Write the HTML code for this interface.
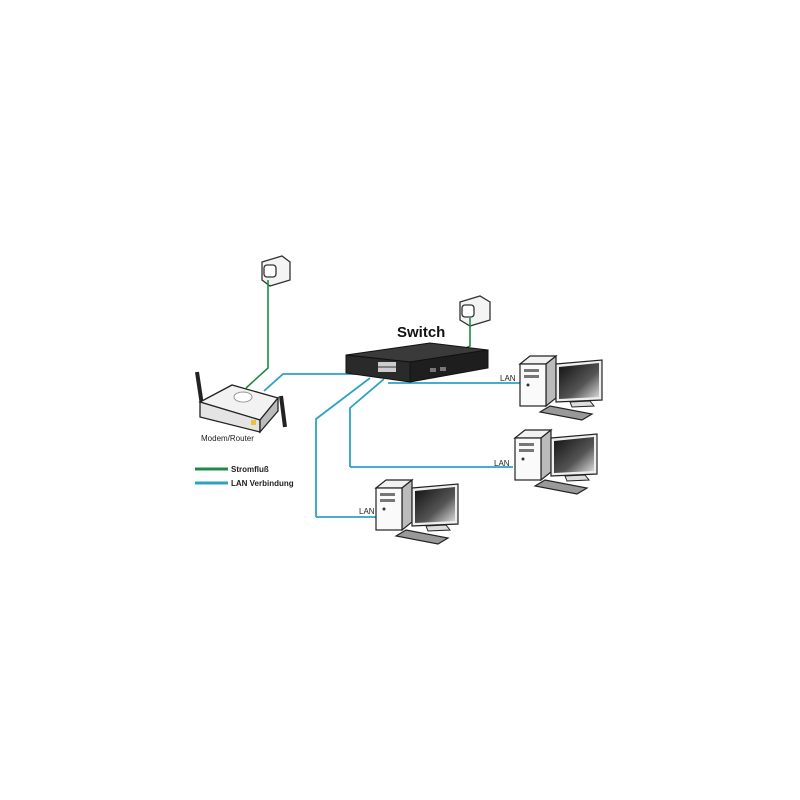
<!DOCTYPE html>
<html><head><meta charset="utf-8"><style>body{margin:0;background:#fff}svg{display:block}text{font-family:"Liberation Sans",sans-serif}</style></head><body>
<svg width="800" height="800" viewBox="0 0 800 800">
<defs>
<linearGradient id="scr" x1="0" y1="0" x2="1" y2="1"><stop offset="0" stop-color="#111"/><stop offset="0.6" stop-color="#555"/><stop offset="1" stop-color="#ddd"/></linearGradient>
<g id="pc">
<polygon points="0,8 10,0 36,0 26,8" fill="#f2f2f2" stroke="#222" stroke-width="1.2"/>
<polygon points="26,8 36,0 36,42 26,50" fill="#bbb" stroke="#222" stroke-width="1.2"/>
<rect x="0" y="8" width="26" height="42" fill="#fafafa" stroke="#222" stroke-width="1.2"/>
<rect x="4" y="13" width="15" height="3" fill="#777"/>
<rect x="4" y="19" width="15" height="3" fill="#777"/>
<circle cx="8" cy="29" r="1.5" fill="#333"/>
<polygon points="36,8 82,4 82,44 36,46" fill="#eee" stroke="#222" stroke-width="1.2"/>
<polygon points="39,11 79,7 79,41 39,43" fill="url(#scr)"/>
<polygon points="50,46 70,45 74,50 52,51" fill="#ddd" stroke="#222" stroke-width="1"/>
<polygon points="20,56 30,50 72,58 62,64" fill="#999" stroke="#222" stroke-width="1.2"/>
</g>
</defs>
<g stroke="#333" stroke-width="1.3" fill="#f4f4f4">
<polygon points="262,262 282,256 290,262 290,280 270,286 262,280"/>
<rect x="264" y="265" width="12" height="12" rx="3" fill="#fff"/>
<polygon points="460,302 480,296 490,302 490,320 470,326 460,320"/>
<rect x="462" y="305" width="12" height="12" rx="3" fill="#fff"/>
</g>
<g stroke="#1f8a46" stroke-width="1.6" fill="none">
<polyline points="268,280 268,368 246,388"/>
<polyline points="470,318 470,346 460,351"/>
</g>
<g stroke="#2ba3c4" stroke-width="1.8" fill="none">
<polyline points="264,391 283,374 361,374 376,366"/>
<polyline points="316,517 378,517"/>
<polyline points="316,517 316,419 370,378"/>
<polyline points="350,467 513,467"/>
<polyline points="350,467 350,408 384,379"/>
<polyline points="388,383 520,383"/>
</g>
<polygon points="346,355 430,343 488,350 410,362" fill="#3a3a3a" stroke="#111"/>
<polygon points="346,355 410,362 410,382 346,373" fill="#2a2a2a" stroke="#111"/>
<polygon points="410,362 488,350 488,368 410,382" fill="#1e1e1e" stroke="#111"/>
<rect x="378" y="362" width="18" height="10" fill="#ccc"/>
<line x1="378" y1="367" x2="396" y2="367" stroke="#333"/>
<rect x="430" y="368" width="6" height="4" fill="#777"/>
<rect x="440" y="367" width="6" height="4" fill="#777"/>
<text x="397" y="337" font-size="15" font-weight="bold" fill="#111">Switch</text>
<line x1="197" y1="372" x2="203" y2="412" stroke="#222" stroke-width="4"/>
<line x1="281" y1="396" x2="285" y2="427" stroke="#222" stroke-width="4"/>
<polygon points="200,402 232,385 278,398 260,420" fill="#f2f2f2" stroke="#222" stroke-width="1.3"/>
<polygon points="200,402 260,420 260,432 200,417" fill="#e4e4e4" stroke="#222" stroke-width="1.3"/>
<polygon points="260,420 278,398 278,411 260,432" fill="#bbb" stroke="#222" stroke-width="1.3"/>
<ellipse cx="243" cy="397" rx="9" ry="5" fill="#fff" stroke="#999"/>
<rect x="251" y="420" width="5" height="5" fill="#e9c33a"/>
<text x="201" y="441" font-size="8" fill="#222">Modem/Router</text>
<use href="#pc" transform="translate(520,356)"/>
<use href="#pc" transform="translate(515,430)"/>
<use href="#pc" transform="translate(376,480)"/>
<text x="500" y="381" font-size="8" fill="#222">LAN</text>
<text x="494" y="466" font-size="8" fill="#222">LAN</text>
<text x="359" y="514" font-size="8" fill="#222">LAN</text>
<line x1="195" y1="469" x2="228" y2="469" stroke="#1f8a46" stroke-width="3"/>
<line x1="195" y1="483" x2="228" y2="483" stroke="#2ba3c4" stroke-width="3"/>
<text x="231" y="472" font-size="8" font-weight="bold" fill="#222">Stromfluß</text>
<text x="231" y="486" font-size="8" font-weight="bold" fill="#222">LAN Verbindung</text>
</svg>
</body></html>
